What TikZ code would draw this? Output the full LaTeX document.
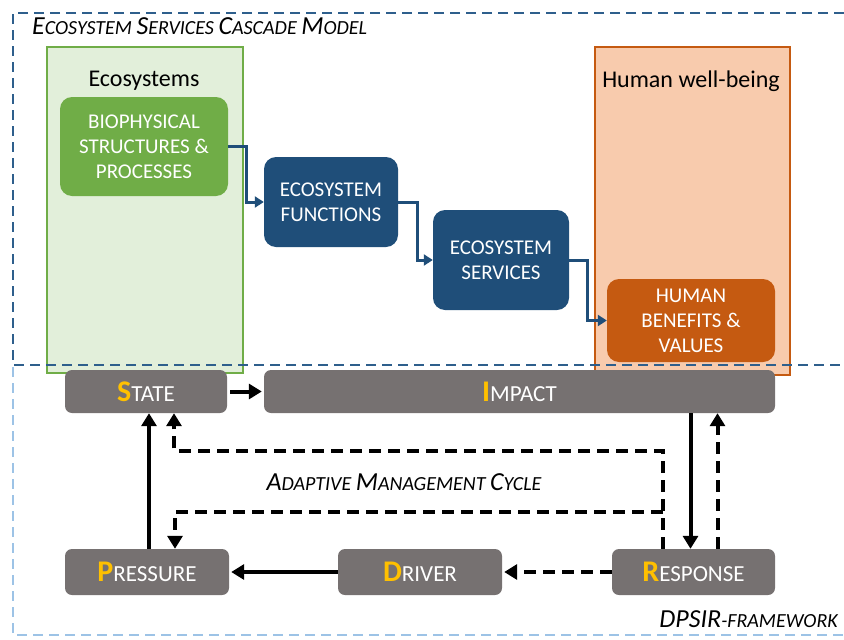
\documentclass[tikz,border=0pt]{standalone}
\usepackage{fontspec}
\setmainfont{Carlito}
\usepackage{xcolor}
\usetikzlibrary{arrows.meta}
\usetikzlibrary{calc}

\definecolor{esblue}{HTML}{1F4E79}
\definecolor{esgreen}{HTML}{70AD47}
\definecolor{eslightgreen}{HTML}{E2EFDA}
\definecolor{esorange}{HTML}{C55A11}
\definecolor{eslightorange}{HTML}{F8CBAD}
\definecolor{dpsirgrey}{HTML}{767171}
\definecolor{dpsiryellow}{HTML}{FFC000}
\definecolor{framelightblue}{HTML}{9DC3E6}
\definecolor{framedarkblue}{HTML}{2E5F8C}

\newcommand{\boxfont}{\fontsize{21}{25}\selectfont}
\newcommand{\scfont}{\fontsize{20}{20}\selectfont\itshape}

\begin{document}
\begin{tikzpicture}[x=1pt,y=-1pt,
  panel/.style={draw,line width=2.5pt,inner sep=0pt},
  cascade/.style={rounded corners=12pt,inner sep=0pt,text=white,align=center,font=\boxfont},
  dpsir/.style={fill=dpsirgrey,rounded corners=7pt,inner sep=0pt,text=white,minimum height=44pt},
  flow/.style={draw=esblue,line width=3pt,-{Triangle[width=11pt,length=9pt]}},
  edge/.style={line width=4pt,-{Triangle[width=15pt,length=13pt]}},
  dashededge/.style={edge,dash pattern=on 12pt off 7pt},
  frame/.style={line width=1.8pt,dash pattern=on 10pt off 6pt}]
\newcommand{\fakesc}[2]{{\fontsize{26}{26}\selectfont #1}{\fontsize{20}{20}\selectfont #2}}
\newcommand{\dpsirword}[2]{{\color{dpsiryellow}\fontsize{30}{30}\selectfont\bfseries #1}{\fontsize{23}{23}\selectfont #2}}

\useasboundingbox (0,0) rectangle (844,640);

% panels of the cascade model
\node[panel,draw=esgreen,fill=eslightgreen,minimum width=196pt,minimum height=326pt] (ecopanel) at (145,210) {};
\node[panel,draw=esorange,fill=eslightorange,minimum width=195pt,minimum height=328pt] (hwbpanel) at (692.5,211) {};
\node[font=\fontsize{24}{24}\selectfont] (ecotitle) at (144,81) {Ecosystems};
\node[font=\fontsize{24}{24}\selectfont] (hwbtitle) at (691,81) {Human well-being};

\node[cascade,fill=esgreen,minimum width=168pt,minimum height=99pt] (bio) at (144,146.5) {BIOPHYSICAL\\STRUCTURES \&\\PROCESSES};
\node[cascade,fill=esblue,minimum width=134pt,minimum height=90pt] (func) at (331,202) {ECOSYSTEM\\FUNCTIONS};
\node[cascade,fill=esblue,minimum width=136pt,minimum height=100pt] (serv) at (501,260) {ECOSYSTEM\\SERVICES};
\node[cascade,fill=esorange,minimum width=168pt,minimum height=83pt] (ben) at (691,320.5) {HUMAN\\BENEFITS \&\\VALUES};

\draw[flow] (bio.east) -- ++(18,0) |- (func.west);
\draw[flow] (func.east) -- ++(19,0) |- (serv.west);
\draw[flow] (serv.east) -- ++(18,0) |- (ben.west);

% dashed frames
\draw[frame,framedarkblue] (844,13) -- (13,13) -- (13,365) -- (844,365);
\draw[frame,framelightblue] (13,367) -- (13,635) -- (844,635);
\node[anchor=base west,font=\scfont,inner sep=0pt] (cascadetitle) at (32,34) {\fakesc{E}{COSYSTEM} \fakesc{S}{ERVICES} \fakesc{C}{ASCADE} \fakesc{M}{ODEL}};
\node[anchor=base east,font=\scfont,inner sep=0pt] (dpsirtitle) at (838,627) {\fakesc{DPSIR}{-FRAMEWORK}};

% DPSIR framework
\node[dpsir,minimum width=162pt,minimum height=43pt] (state) at (146,391.5) {\dpsirword{S}{TATE}};
\node[dpsir,minimum width=511pt,minimum height=43pt] (impact) at (519.5,391.5) {\dpsirword{I}{MPACT}};
\node[dpsir,minimum width=164pt,minimum height=46pt] (pressure) at (147,572) {\dpsirword{P}{RESSURE}};
\node[dpsir,minimum width=164pt,minimum height=46pt] (driver) at (420,572) {\dpsirword{D}{RIVER}};
\node[dpsir,minimum width=163pt,minimum height=46pt] (response) at (693.5,572) {\dpsirword{R}{ESPONSE}};

\draw[edge] (state.east) ++(3,0) -- ([xshift=-2pt]impact.west);
\draw[edge] ([xshift=2pt]pressure.north) -- ([xshift=2pt]pressure.north |- state.south);
\draw[edge] (driver.west) -- ([xshift=2pt]pressure.east);
\draw[dashededge] (response.west) -- ([xshift=2pt]driver.east);
\draw[edge] ([xshift=-3pt]response.north |- impact.south) -- ([xshift=-3pt]response.north);
\draw[dashededge] ([xshift=24pt]response.north) -- ([xshift=24pt]response.north |- impact.south);

% adaptive management cycle
\coordinate (cycleup) at ([xshift=-31pt,yshift=98pt]response.north);
\coordinate (cycledown) at ([xshift=-31pt,yshift=37pt]response.north);
\draw[dashededge] ([xshift=-31pt]response.north) -- (cycleup) -| ([xshift=28pt]state.south);
\draw[dashededge] (cycledown) -| ([xshift=28pt]pressure.north);
\node[font=\scfont] (cyclelabel) at (404,482) {\fakesc{A}{DAPTIVE} \fakesc{M}{ANAGEMENT} \fakesc{C}{YCLE}};

\end{tikzpicture}
\end{document}
